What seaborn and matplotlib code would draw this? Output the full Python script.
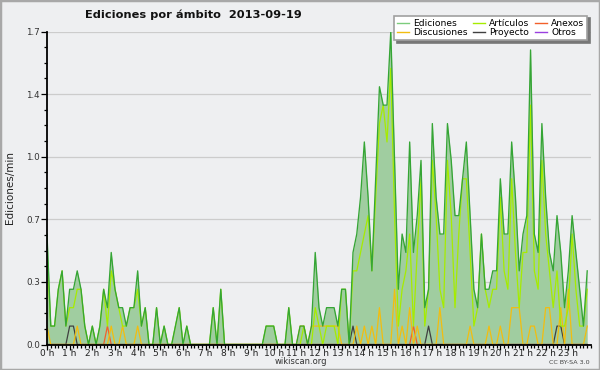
import numpy as np
import pandas as pd
import matplotlib
matplotlib.use("Agg")
from matplotlib import pyplot as plt
from matplotlib.lines import Line2D
from matplotlib.patches import Rectangle
from matplotlib.ticker import MultipleLocator
import seaborn as sns

# edits per 10-minute slot (6 slots per hour, 144 slots for the day)
EDICIONES = [
    6, 1, 1, 3, 4, 1, 3, 3, 4, 3, 1, 0, 1, 0, 1, 3, 2, 5, 3, 2, 2, 1, 2, 2,
    4, 1, 2, 0, 0, 2, 0, 1, 0, 0, 1, 2, 0, 1, 0, 0, 0, 0, 0, 0, 2, 0, 3, 0,
    0, 0, 0, 0, 0, 0, 0, 0, 0, 0, 1, 1, 1, 0, 0, 0, 2, 0, 0, 1, 1, 0, 1, 5,
    2, 1, 2, 2, 2, 1, 3, 3, 0, 5, 6, 8, 11, 8, 4, 9, 14, 13, 13, 17, 10, 3, 6, 5,
    11, 5, 7, 10, 2, 3, 12, 8, 6, 6, 12, 10, 7, 7, 9, 11, 7, 3, 2, 6, 3, 3, 4, 4,
    9, 6, 6, 11, 8, 4, 6, 7, 16, 6, 5, 12, 8, 5, 4, 7, 5, 2, 4, 7, 5, 3, 1, 4,
]
ARTICULOS = [
    5, 1, 1, 3, 4, 1, 2, 2, 3, 3, 1, 0, 1, 0, 1, 3, 1, 4, 3, 2, 1, 1, 2, 2,
    3, 1, 2, 0, 0, 2, 0, 1, 0, 0, 1, 2, 0, 1, 0, 0, 0, 0, 0, 0, 2, 0, 3, 0,
    0, 0, 0, 0, 0, 0, 0, 0, 0, 0, 1, 1, 1, 0, 0, 0, 2, 0, 0, 0, 1, 0, 0, 2,
    1, 0, 1, 1, 1, 0, 3, 3, 0, 4, 4, 5, 6, 7, 4, 8, 12, 13, 11, 15, 7, 1, 3, 4,
    6, 1, 5, 9, 1, 3, 10, 7, 3, 2, 10, 7, 2, 6, 9, 9, 5, 1, 2, 6, 3, 2, 3, 3,
    8, 4, 3, 9, 5, 2, 5, 5, 13, 4, 3, 10, 6, 4, 2, 4, 1, 1, 2, 6, 3, 1, 1, 3,
]
DISCUSIONES = [
    1, 0, 0, 0, 0, 0, 0, 0, 1, 0, 0, 0, 0, 0, 0, 0, 0, 1, 0, 0, 1, 0, 0, 0,
    1, 0, 0, 0, 0, 0, 0, 0, 0, 0, 0, 0, 0, 0, 0, 0, 0, 0, 0, 0, 0, 0, 0, 0,
    0, 0, 0, 0, 0, 0, 0, 0, 0, 0, 0, 0, 0, 0, 0, 0, 0, 0, 0, 1, 1, 0, 1, 1,
    1, 1, 1, 1, 1, 1, 0, 0, 0, 0, 1, 0, 1, 0, 1, 0, 2, 0, 0, 0, 3, 0, 1, 0,
    2, 0, 1, 0, 0, 0, 0, 0, 2, 0, 0, 0, 0, 0, 0, 0, 1, 0, 0, 0, 0, 1, 0, 0,
    1, 0, 0, 2, 2, 2, 0, 0, 1, 1, 0, 0, 2, 2, 0, 0, 2, 0, 3, 0, 0, 0, 0, 1,
]
PROYECTO = [0] * 144
for slot in (6, 7, 81, 101, 135, 136):
    PROYECTO[slot] = 1
ANEXOS = [0] * 144
for slot in (16, 97):
    ANEXOS[slot] = 1
OTROS = [0] * 144

HOUR_LABELS = [f"{h} h" for h in range(24)]
Y_TICKS = [0, 0.34, 0.68, 1.02, 1.36, 1.7]
Y_LABELS = ["0.0", "0.3", "0.7", "1.0", "1.4", "1.7"]

BG = "#eeeff1"
COLORS = {
    "Ediciones": "#35a535",
    "Artículos": "#a6ec00",
    "Discusiones": "#f2bd10",
    "Proyecto": "#404040",
    "Anexos": "#f2602a",
    "Otros": "#9a40e0",
}

plt.rcParams["font.family"] = ["DejaVu Sans"]

fig = plt.figure(figsize=(6, 3.7), dpi=100, facecolor=BG)
fig.patches.append(Rectangle((0, 0), 1, 1, transform=fig.transFigure, fill=False,
                             edgecolor="#a8a8a8", linewidth=2.5))
ax = fig.add_axes([47 / 600, 25.5 / 370, 544 / 600, 313 / 370])
ax.set_facecolor(BG)

hours = np.arange(len(EDICIONES)) / 6
df = pd.DataFrame({
    "hora": hours,
    "Ediciones": np.array(EDICIONES) / 10,
    "Artículos": np.array(ARTICULOS) / 10,
    "Discusiones": np.array(DISCUSIONES) / 10,
    "Proyecto": np.array(PROYECTO) / 10,
    "Anexos": np.array(ANEXOS) / 10,
    "Otros": np.array(OTROS) / 10,
})

ax.fill_between(df["hora"], df["Ediciones"], color="#a0cda0", linewidth=0, zorder=1)
for name, lw, z in [("Ediciones", 0.95, 3), ("Otros", 0.9, 2.2), ("Anexos", 0.9, 2.6),
                    ("Proyecto", 0.9, 2.7), ("Discusiones", 0.9, 2.8), ("Artículos", 0.9, 2.9)]:
    sns.lineplot(data=df, x="hora", y=name, color=COLORS[name], linewidth=lw,
                 ax=ax, zorder=z, legend=False)

ax.set_xlim(0, 24)
ax.set_ylim(0, 1.7)
ax.set_xticks(range(24))
ax.set_xticklabels(HOUR_LABELS, fontsize=6.5, color="#222222")
ax.xaxis.set_minor_locator(MultipleLocator(1 / 6))
ax.set_yticks(Y_TICKS)
ax.set_yticklabels(Y_LABELS, fontsize=6.3, color="#333333")
ax.yaxis.set_minor_locator(MultipleLocator(0.085))
ax.tick_params(axis="x", which="major", length=3.5, width=0.9, pad=0)
ax.tick_params(axis="y", which="major", length=4, width=0.9, pad=1)
ax.tick_params(axis="both", which="minor", length=2.5, width=0.9)
ax.yaxis.grid(True, color="#cccccc", linewidth=0.9)
ax.set_axisbelow(True)
for side in ("top", "right"):
    ax.spines[side].set_visible(False)
for side in ("left", "bottom"):
    ax.spines[side].set_linewidth(1.3)
    ax.spines[side].set_zorder(5)
ax.set_xlabel("")
ax.set_ylabel("")

legend_order = ["Ediciones", "Discusiones", "Artículos", "Proyecto", "Anexos", "Otros"]
legend_colors = dict(COLORS, Ediciones="#7ccc7c")
handles = [Line2D([], [], color=legend_colors[n], linewidth=1.0, label=n) for n in legend_order]
leg = fig.legend(handles=handles, ncol=3, loc="upper right",
                 bbox_to_anchor=(592 / 600, 1 - 11 / 370), fontsize=6.6,
                 frameon=True, fancybox=False, framealpha=1, edgecolor="#a0a0a0",
                 shadow={"color": "#777777", "alpha": 1},
                 handlelength=1.3, handletextpad=0.45, columnspacing=0.6,
                 labelspacing=0.0, borderpad=0.35)
leg.get_frame().set_linewidth(1.2)

fig.text(85 / 600, 1 - 15 / 370, "Ediciones por ámbito  2013-09-19", fontsize=8.2,
         fontweight="bold", ha="left", va="center", color="#111111")
fig.text(10 / 600, 1 - 188 / 370, "Ediciones/min", rotation=90, fontsize=7.5,
         ha="center", va="center", color="#222222")
fig.text(301 / 600, 1 - 362 / 370, "wikiscan.org", fontsize=6, ha="center",
         va="center", color="#333333")
fig.text(590 / 600, 1 - 362 / 370, "CC BY-SA 3.0", fontsize=4.6, ha="right",
         va="center", color="#444444")

fig.savefig("out.png", dpi=100, facecolor=BG)
